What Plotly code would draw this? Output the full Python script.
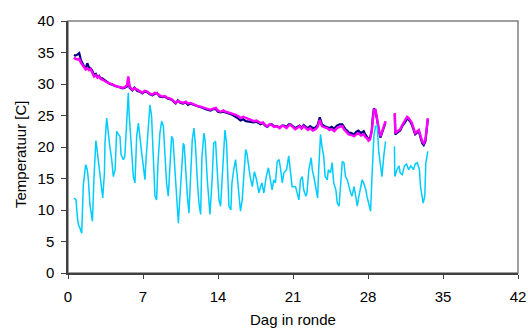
import plotly.graph_objects as go

# ---- data ----
mag_day = [0.55,0.7,0.9,1.05,1.2,1.35,1.5,1.65,1.8,1.96,2.1,2.27,2.43,2.6,2.75,2.9,3.05,3.2,3.4,3.55,3.7,3.9,4.15,4.35,4.6,4.85,5.1,5.3,5.5,5.63,5.75,6.0,6.2,6.47,6.7,6.94,7.15,7.4,7.6,7.87,8.1,8.3,8.55,8.8,9.05,9.27,9.5,9.74,9.9,10.05,10.25,10.5,10.75,11.0,11.2,11.45,11.7,11.9,12.1,12.38,12.6,12.85,13.05,13.3,13.55,13.8,14.0,14.24,14.5,14.7,14.95,15.2,15.45,15.67,15.9,16.1,16.35,16.6,16.85,17.05,17.35,17.6,17.97,18.2,18.4,18.6,18.8,19.0,19.25,19.5,19.75,20.0,20.15,20.4,20.6,20.77,21.0,21.2,21.4,21.6,21.8,22.0,22.2,22.4,22.6,22.85,23.1,23.3,23.5,23.7,23.95,24.2,24.4,24.6,24.85,25.1,25.35,25.6,25.75,25.9,26.05,26.2,26.45,26.7,26.9,27.1,27.35,27.6,27.75,27.9,28.05,28.2,28.35,28.45,28.55,28.7,28.8,28.9,29.05,29.16,29.3,29.5,29.64,None,30.5,30.55,30.75,31.0,31.2,31.5,31.65,31.8,31.95,32.1,32.25,32.4,32.6,32.75,32.9,33.06,33.2,33.36,33.45,33.58]
mag_temp = [34.2,34.0,33.9,34.0,33.4,33.0,32.6,32.3,32.5,32.2,32.4,31.9,31.2,31.4,31.0,31.2,30.8,30.7,30.5,30.3,30.2,30.1,29.9,29.8,29.6,29.5,29.4,29.5,29.8,31.2,29.6,29.1,29.3,29.1,28.8,28.6,28.9,28.8,28.5,28.3,28.6,28.5,28.2,28.0,28.1,27.8,27.7,27.5,27.2,27.0,27.3,27.2,27.0,27.2,26.9,27.0,26.8,26.7,26.5,26.4,26.3,26.2,26.0,25.9,26.1,26.2,25.8,25.6,25.8,25.6,25.5,25.4,25.3,25.1,24.9,24.6,24.8,24.6,24.4,24.3,24.1,24.2,23.8,23.9,23.5,23.3,23.6,23.5,23.2,23.3,23.0,23.4,23.3,23.0,23.4,23.5,23.1,22.8,23.0,23.3,22.9,23.3,23.0,22.7,23.0,22.6,22.8,23.2,24.3,23.3,23.1,23.0,22.7,22.8,22.5,23.0,23.2,23.3,22.8,22.5,22.3,22.0,21.9,21.7,22.0,22.2,21.8,22.0,21.6,21.4,21.0,21.2,22.5,24.5,25.9,25.9,24.8,23.8,22.5,21.7,22.4,23.3,24.1,None,25.4,22.2,22.5,22.8,23.5,24.3,24.8,24.6,24.2,23.8,23.0,22.2,22.5,22.7,21.8,20.9,20.6,21.2,22.5,24.6]

navy_temp = [34.6,34.5,34.7,34.9,33.8,33.2,32.8,32.5,33.3,32.6,32.5,32.1,31.4,31.6,31.1,31.3,30.9,30.9,30.6,30.5,30.2,30.0,29.9,29.7,29.6,29.4,29.3,29.4,29.6,30.6,29.4,29.0,29.4,28.9,28.8,28.5,28.8,28.7,28.4,28.2,28.4,28.6,28.0,27.9,28.0,27.7,27.6,27.4,27.1,26.9,27.4,27.0,26.9,27.1,26.7,26.9,26.7,26.6,26.4,26.3,26.2,26.0,25.9,25.8,26.0,26.0,25.6,25.5,25.6,25.5,25.3,25.2,25.0,24.8,24.5,24.2,24.4,24.1,24.0,23.9,23.9,24.0,23.6,23.8,23.4,23.2,23.5,23.6,23.3,23.3,23.1,23.4,23.4,23.2,23.6,23.6,23.2,23.0,23.2,23.4,23.1,23.5,23.2,23.0,23.3,23.0,23.1,23.5,24.7,23.6,23.3,23.2,23.0,23.2,22.9,23.4,23.6,23.6,23.1,22.8,22.6,22.3,22.2,22.0,22.4,22.6,22.2,22.5,22.0,21.6,21.2,21.5,22.6,24.8,26.1,25.8,24.6,23.6,22.3,21.5,22.2,23.1,23.9,None,25.2,22.0,22.3,22.6,23.3,24.0,24.6,24.3,24.0,23.5,22.8,22.0,22.3,22.5,21.5,20.6,20.3,20.9,22.3,24.4]

cyan_day = [0.56,0.75,0.87,0.97,1.1,1.28,1.43,1.65,1.8,1.9,2.05,2.28,2.43,2.6,2.68,2.99,3.14,3.24,3.4,3.45,3.61,3.77,3.9,4.08,4.23,4.4,4.54,4.7,4.85,4.95,5.17,5.3,5.48,5.63,5.7,5.88,6.1,6.25,6.41,6.57,6.7,6.88,7.0,7.18,7.3,7.53,7.65,7.8,7.96,8.12,8.27,8.4,8.58,8.74,8.9,9.05,9.2,9.36,9.5,9.67,9.8,9.98,10.14,10.3,10.45,10.6,10.76,10.85,10.98,11.14,11.29,11.45,11.6,11.76,11.9,12.07,12.22,12.38,12.5,12.69,12.8,13.0,13.25,13.45,13.6,13.77,13.9,14.09,14.24,14.4,14.65,14.8,14.9,15.02,15.2,15.3,15.47,15.64,15.8,15.95,16.1,16.26,16.4,16.58,16.7,16.88,17.0,17.2,17.4,17.6,17.82,17.97,18.1,18.28,18.5,18.7,18.9,19.05,19.2,19.36,19.53,19.7,19.85,20.0,20.15,20.4,20.6,20.77,20.92,21.24,21.55,21.7,21.87,22.0,22.2,22.3,22.48,22.7,22.8,23.0,23.17,23.3,23.4,23.57,23.7,23.87,24.0,24.2,24.3,24.5,24.66,24.8,25.0,25.13,25.3,25.45,25.6,25.75,25.9,26.07,26.2,26.38,26.5,26.7,26.85,27.0,27.15,27.3,27.46,27.6,27.8,27.9,28.08,28.24,28.4,28.55,28.7,28.86,29.0,29.17,29.3,29.5,29.64,None,30.47,30.5,30.7,30.9,31.0,31.2,31.4,31.6,31.8,32.0,32.25,32.4,32.6,32.8,32.9,33.15,33.3,33.4,33.58]
cyan_temp = [11.9,11.6,9.0,7.7,7.2,6.3,14.0,17.2,16.4,14.8,10.8,8.2,15.3,21.0,20.1,15.3,13.7,11.9,15.9,20.6,24.6,21.7,20.1,18.0,15.3,16.4,22.5,22.0,21.7,18.8,18.0,18.5,24.9,28.6,25.4,20.6,15.3,14.3,21.7,23.8,21.2,19.0,17.4,14.8,18.5,24.9,26.7,24.9,17.5,12.2,11.6,17.5,22.2,24.1,23.3,17.5,14.3,12.2,16.4,21.7,21.2,16.4,10.6,7.9,12.2,17.0,20.6,20.2,15.9,12.2,9.5,16.4,21.2,23.0,20.1,14.8,11.1,9.3,18.5,22.2,20.9,14.8,9.3,14.8,20.6,20.9,16.4,11.6,10.6,14.8,22.7,20.6,16.4,10.6,10.0,14.3,16.4,18.0,15.3,12.2,9.8,11.6,14.8,19.6,19.0,16.4,15.3,13.7,16.1,14.8,12.7,13.7,14.3,12.7,15.3,16.7,14.8,13.2,14.8,14.3,17.7,18.0,16.4,14.3,15.9,16.4,18.6,15.3,13.7,13.7,11.6,14.8,15.3,13.2,12.2,12.7,16.4,18.3,16.4,14.8,12.7,11.9,16.4,22.0,20.1,18.5,15.3,14.8,16.4,15.9,17.5,14.3,13.2,11.1,10.6,13.7,17.7,17.5,15.3,14.8,13.7,12.7,12.2,13.7,12.2,10.6,12.2,13.7,14.8,14.3,13.2,12.2,10.6,9.8,16.4,21.7,23.3,23.3,19.3,16.4,15.3,19.0,20.9,None,20.1,15.3,16.4,17.0,15.9,15.6,17.0,17.3,16.4,17.0,16.4,17.3,17.5,16.4,13.7,11.1,12.2,17.5,19.3]

x_ticks = [0, 7, 14, 21, 28, 35, 42]
y_ticks = [0, 5, 10, 15, 20, 25, 30, 35, 40]

font = "Liberation Sans, Arial, sans-serif"

fig = go.Figure()
fig.add_trace(go.Scatter(x=mag_day, y=navy_temp, mode="lines",
                         line=dict(color="#000080", width=2.2), connectgaps=False))
fig.add_trace(go.Scatter(x=mag_day, y=mag_temp, mode="lines",
                         line=dict(color="#FF00FF", width=2.4), connectgaps=False))
fig.add_trace(go.Scatter(x=cyan_day, y=cyan_temp, mode="lines",
                         line=dict(color="#00CCFF", width=1.5), connectgaps=False))

fig.update_layout(
    width=528, height=336,
    margin=dict(l=68, r=10, t=21, b=63, autoexpand=False),
    paper_bgcolor="white", plot_bgcolor="white",
    showlegend=False,
    font=dict(family=font, size=15, color="#000000"),
    shapes=[dict(type="rect", xref="paper", yref="paper", x0=0, y0=0, x1=1, y1=1,
                 line=dict(color="#808080", width=1.5), layer="below")],
    annotations=[
        dict(text="Dag in ronde", xref="paper", yref="paper", x=0.5, y=0,
             yshift=-36, showarrow=False, font=dict(size=15), yanchor="top"),
        dict(text="Temperatuur [C]", xref="paper", yref="paper", x=0, y=0.5,
             xshift=-48, yshift=-7, textangle=-90, showarrow=False,
             font=dict(size=15), xanchor="center", yanchor="middle"),
    ],
)
fig.update_xaxes(range=[0, 42], tickvals=x_ticks, showgrid=False, zeroline=False,
                 showline=True, linecolor="#404040", linewidth=1.5, automargin=False,
                 ticks="outside", ticklen=4, tickcolor="#404040",
                 ticklabelstandoff=5, tickfont=dict(size=15))
fig.update_yaxes(range=[0, 40], tickvals=y_ticks, showgrid=False, zeroline=False,
                 showline=True, linecolor="#404040", linewidth=1.5, automargin=False,
                 ticks="outside", ticklen=5, tickcolor="#404040",
                 ticklabelstandoff=4, tickfont=dict(size=15))

fig.write_html("out.html")
